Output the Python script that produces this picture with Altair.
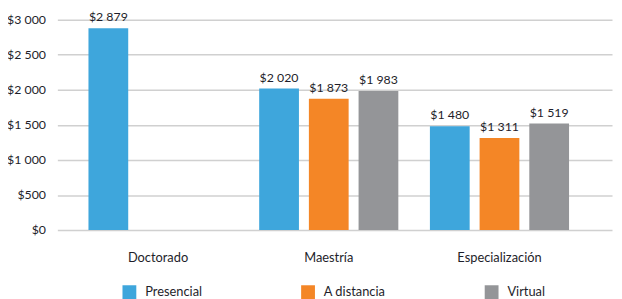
import altair as alt
import pandas as pd

categorias = ["Doctorado", "Maestría", "Especialización"]
modalidades = ["Presencial", "A distancia", "Virtual"]
presencial = [2879, 2020, 1480]
a_distancia = [None, 1873, 1311]
virtual = [None, 1983, 1519]
colores = ["#3EA6DC", "#F48626", "#949598"]
ticks_y = [0, 500, 1000, 1500, 2000, 2500, 3000]

rows = []
for serie, nombre in zip([presencial, a_distancia, virtual], modalidades):
    for cat, v in zip(categorias, serie):
        if v is not None:
            rows.append({"categoria": cat, "modalidad": nombre, "valor": v})
df = pd.DataFrame(rows)

txt = "#1e1e2a"
fmt = "'$' + replace(format(%s, ','), ',', ' ')"

base = alt.Chart(df).transform_calculate(
    etiqueta=fmt % "datum.valor"
).encode(
    x=alt.X(
        "categoria:N",
        sort=categorias,
        scale=alt.Scale(paddingInner=0.185, paddingOuter=0.217, align=0.42),
        axis=alt.Axis(title=None, labelAngle=0, domain=False, ticks=False, tickSize=0,
                      labelPadding=22, labelFontSize=13, labelColor=txt, grid=False),
    ),
    xOffset=alt.XOffset("modalidad:N", sort=modalidades,
                        scale=alt.Scale(domain=modalidades, paddingInner=0.2, paddingOuter=0)),
    y=alt.Y(
        "valor:Q",
        scale=alt.Scale(domain=[0, 3000], nice=False),
        axis=alt.Axis(title=None, values=ticks_y, labelExpr=fmt % "datum.value",
                      domain=False, ticks=False, tickSize=0, labelPadding=12,
                      labelFontSize=12.5, labelColor=txt, grid=True,
                      gridColor="#d0d0d0", gridWidth=1.5),
    ),
)

bars = base.mark_bar().encode(
    color=alt.Color(
        "modalidad:N",
        sort=modalidades,
        scale=alt.Scale(domain=modalidades, range=colores),
        legend=alt.Legend(title=None, orient="none", direction="horizontal",
                          legendX=66, legendY=269, symbolType="square",
                          symbolSize=196, symbolStrokeWidth=0, labelFontSize=13,
                          labelColor=txt, labelOffset=9, columnPadding=100),
    )
)

text = base.mark_text(dy=-7, baseline="alphabetic", fontSize=12.5, color=txt).encode(
    text="etiqueta:N"
)

chart = alt.layer(bars, text).properties(
    width=562,
    height=213,
    autosize=alt.AutoSizeParams(type="none"),
    padding={"left": 50, "top": 10, "right": 2, "bottom": 68},
).configure(font="Lato").configure_view(stroke=None)

chart.save("out.html", embed_options={"renderer": "svg", "actions": False})
